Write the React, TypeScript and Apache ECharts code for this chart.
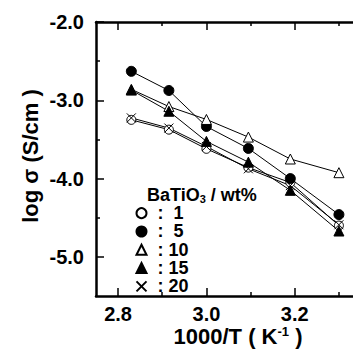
import React, { useEffect, useRef } from "react";
import * as echarts from "echarts";

const xValues = [2.83, 2.915, 3.0, 3.095, 3.19, 3.3];
const seriesNames = ["1", "5", "10", "15", "20"];
const s1 = [-3.25, -3.375, -3.62, -3.86, -4.05, -4.6];
const s5 = [-2.63, -2.875, -3.335, -3.615, -4.0, -4.46];
const s10 = [-2.86, -3.08, -3.245, -3.47, -3.75, -3.925];
const s15 = [-2.87, -3.14, -3.525, -3.79, -4.15, -4.67];
const s20 = [-3.225, -3.355, -3.59, -3.875, -4.09, -4.59];
const xMajor = [2.8, 3.0, 3.2];
const xMinor = [2.9, 3.1, 3.3];
const yMajor = [-2.0, -3.0, -4.0, -5.0];
const yMinor = [-2.5, -3.5, -4.5];

const FONT = "'Liberation Sans', Arial, Helvetica, sans-serif";
const CROSS = "path://M0,0L10,10M10,0L0,10";

export default function App() {
  const ref = useRef<HTMLDivElement>(null);
  useEffect(() => {
    if (!ref.current) return;
    const chart = echarts.init(ref.current, null, { renderer: "svg" });
    const pair = (ys: number[]) => xValues.map((x, i) => [x, ys[i]]);
    const styles = [
      { data: s1, symbol: "circle", size: 9, fill: "#fff" },
      { data: s5, symbol: "circle", size: 10, fill: "#000" },
      { data: s10, symbol: "triangle", size: 10, fill: "#fff" },
      { data: s15, symbol: "triangle", size: 10, fill: "#000" },
      { data: s20, symbol: CROSS, size: 9, fill: "none" },
    ];
    const series = styles.map((s, i) => ({
      name: seriesNames[i],
      type: "line",
      data: pair(s.data),
      symbol: s.symbol,
      symbolSize: s.size,
      showAllSymbol: true,
      lineStyle: { color: "#000", width: 1 },
      itemStyle: { color: s.fill, borderColor: "#000", borderWidth: 1 },
      xAxisIndex: 0,
      yAxisIndex: 0,
      z: 3,
    }));
    const axisLine = { show: true, lineStyle: { color: "#000", width: 2.5 } };
    const tickStyle = { color: "#000", width: 1.5 };
    const xBase = {
      type: "value",
      min: 2.75,
      max: 3.35,
      splitLine: { show: false },
    };
    const yBase = {
      type: "value",
      min: -5.5,
      max: -2.0,
      splitLine: { show: false },
    };
    const tickLabelStyle = {
      color: "#000",
      fontSize: 20,
      fontWeight: "bold",
      fontFamily: FONT,
    };
    const legendStyle = {
      color: "#000",
      fontSize: 18,
      fontWeight: "bold",
      fontFamily: FONT,
    };
    chart.setOption({
      animation: false,
      backgroundColor: "#fff",
      grid: { left: 96, top: 22, width: 276, height: 274, containLabel: false },
      xAxis: [
        {
          ...xBase,
          position: "bottom",
          axisLine,
          axisTick: { show: true, inside: true, length: 8, lineStyle: tickStyle, customValues: xMajor },
          axisLabel: {
            show: true,
            ...tickLabelStyle,
            margin: 8,
            customValues: xMajor,
            formatter: (v: number) => v.toFixed(1),
          },
        },
        {
          ...xBase,
          position: "bottom",
          axisLine: { show: false },
          axisTick: { show: true, inside: true, length: 4, lineStyle: tickStyle, customValues: xMinor },
          axisLabel: { show: false },
        },
        {
          ...xBase,
          position: "top",
          axisLine,
          axisTick: { show: true, inside: true, length: 8, lineStyle: tickStyle, customValues: xMajor },
          axisLabel: { show: false },
        },
        {
          ...xBase,
          position: "top",
          axisLine: { show: false },
          axisTick: { show: true, inside: true, length: 4, lineStyle: tickStyle, customValues: xMinor },
          axisLabel: { show: false },
        },
      ],
      yAxis: [
        {
          ...yBase,
          position: "left",
          axisLine,
          axisTick: { show: true, inside: true, length: 8, lineStyle: tickStyle, customValues: yMajor },
          axisLabel: {
            show: true,
            ...tickLabelStyle,
            margin: 12,
            customValues: yMajor,
            formatter: (v: number) => v.toFixed(1),
          },
        },
        {
          ...yBase,
          position: "left",
          axisLine: { show: false },
          axisTick: { show: true, inside: true, length: 4, lineStyle: tickStyle, customValues: yMinor },
          axisLabel: { show: false },
        },
      ],
      legend: {
        orient: "vertical",
        left: 134,
        top: 204,
        itemWidth: 10,
        itemHeight: 10,
        itemGap: 0,
        padding: 0,
        data: seriesNames.map((n, i) => ({
          name: n,
          icon: styles[i].symbol,
        })),
        formatter: (n: string) => (n.length === 1 ? ":  " + n : ": " + n),
        textStyle: { ...legendStyle, lineHeight: 18.3, padding: [0, 0, 0, 6] },
        selectedMode: false,
      },
      graphic: [
        {
          type: "text",
          x: 30,
          y: 156,
          rotation: Math.PI / 2,
          style: {
            text: "log σ (S/cm )",
            fill: "#000",
            font: `bold 22px ${FONT}`,
            textAlign: "center",
            textVerticalAlign: "middle",
          },
        },
        {
          type: "text",
          x: 238,
          y: 336,
          style: {
            text: "1000/T ( K{sup|-1} )",
            fill: "#000",
            font: `bold 22px ${FONT}`,
            textAlign: "center",
            textVerticalAlign: "middle",
            rich: {
              sup: { fontSize: 13, fontWeight: "bold", fontFamily: FONT, verticalAlign: "top", fill: "#000" },
            },
          },
        },
        {
          type: "text",
          x: 147,
          y: 195,
          style: {
            text: "BaTiO{sub|3} / wt%",
            fill: "#000",
            font: `bold 18px ${FONT}`,
            textAlign: "left",
            textVerticalAlign: "middle",
            rich: {
              sub: { fontSize: 11, fontWeight: "bold", fontFamily: FONT, verticalAlign: "bottom", fill: "#000" },
            },
          },
        },
      ],
      series,
    });
    return () => chart.dispose();
  }, []);
  return <div ref={ref} style={{ width: 361, height: 363, margin: -8 }} />;
}
